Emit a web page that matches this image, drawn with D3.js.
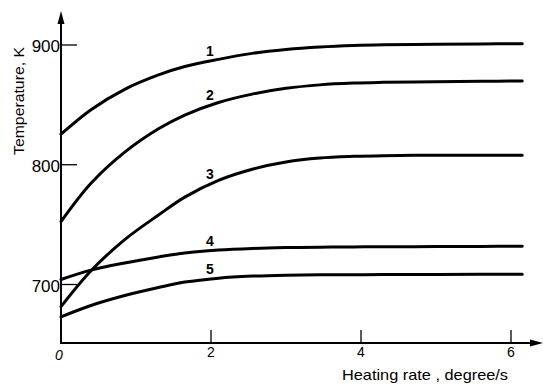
<!DOCTYPE html>
<html><head><meta charset="utf-8">
<script src="https://cdn.jsdelivr.net/npm/d3@7"></script>
<style>html,body{margin:0;padding:0;background:#fff;}svg{display:block;}</style>
</head><body>
<script>
const rates  = [0, 0.4, 0.85, 1.3, 1.65, 2.1, 2.55, 3.0, 3.45, 3.9, 4.3, 5.0, 5.6, 6.15];
const curve1 = [825.5, 846, 863, 875, 882, 888, 893, 896.2, 898.3, 899.6, 900.2, 900.6, 900.9, 901];
const curve2 = [752.5, 784.5, 810.5, 830, 841.5, 852, 859, 863.8, 866.7, 868.2, 868.8, 869.4, 869.7, 870];
const curve3 = [681.5, 711.5, 737.5, 758, 773, 787, 796.3, 802.3, 805.6, 807, 807.6, 808, 808, 808];
const curve4 = [704.2, 712, 718, 723, 726.4, 728.8, 730.1, 730.8, 731.2, 731.4, 731.5, 731.7, 731.8, 732];
const curve5 = [673, 682.5, 690.8, 697.5, 702, 705.3, 707, 707.8, 708.1, 708.2, 708.3, 708.4, 708.5, 708.5];
const curveLabels = ["1", "2", "3", "4", "5"];
const xTicks = [0, 2, 4, 6];
const yTicks = [700, 800, 900];
const xTitle = "Heating rate , degree/s";
const yTitle = "Temperature, K";

const W = 543, H = 384;
const svg = d3.select("body").append("svg").attr("width", W).attr("height", H);
const x = d3.scaleLinear().domain([0, 6]).range([61, 511]);
const y = d3.scaleLinear().domain([700, 900]).range([284.5, 45]);
const x0 = x(0), yBase = 343;

// axes lines
svg.append("line").attr("x1", x0).attr("x2", x0).attr("y1", yBase).attr("y2", 22)
  .attr("stroke", "#000").attr("stroke-width", 2);
svg.append("path").attr("d", `M${x0},11 L${x0-3.5},24 L${x0+3.5},24 Z`).attr("fill", "#000");
svg.append("line").attr("x1", x0 - 1).attr("x2", 533).attr("y1", yBase).attr("y2", yBase)
  .attr("stroke", "#000").attr("stroke-width", 2);
svg.append("path").attr("d", `M543,${yBase} L530,${yBase-3.5} L530,${yBase+3.5} Z`).attr("fill", "#000");

const font = "'Liberation Sans Narrow','Liberation Sans',Arial,sans-serif";

// y ticks
yTicks.forEach(t => {
  svg.append("line").attr("x1", x0).attr("x2", x0 + 16).attr("y1", y(t)).attr("y2", y(t))
    .attr("stroke", "#000").attr("stroke-width", 1.3);
  svg.append("text").attr("x", x0 - 1).attr("y", y(t) + 7).attr("text-anchor", "end")
    .attr("font-family", font).attr("font-size", 17).text(t);
});
// x ticks
xTicks.forEach(t => {
  if (t > 0) {
    svg.append("line").attr("x1", x(t)).attr("x2", x(t)).attr("y1", yBase).attr("y2", yBase - 13)
      .attr("stroke", "#000").attr("stroke-width", 1.3);
  }
  svg.append("text").attr("x", t === 0 ? x(t) - 2 : x(t)).attr("y", t === 0 ? 360 : 357)
    .attr("text-anchor", "middle").attr("font-family", font).attr("font-size", 14)
    .attr("font-style", t === 0 ? "italic" : "normal").text(t);
});

// axis titles
svg.append("text").attr("x", 342).attr("y", 380).attr("font-family", "'Liberation Sans',Arial,sans-serif")
  .attr("font-size", 15).attr("textLength", 166).attr("lengthAdjust", "spacingAndGlyphs").text(xTitle);
svg.append("text").attr("transform", "translate(24,101) rotate(-90)").attr("text-anchor", "middle")
  .attr("font-family", "'Liberation Sans',Arial,sans-serif").attr("font-size", 14)
  .attr("textLength", 108).attr("lengthAdjust", "spacingAndGlyphs").text(yTitle);

// curves
const series = [curve1, curve2, curve3, curve4, curve5];
const line = d3.line().x(d => x(d[0])).y(d => y(d[1])).curve(d3.curveCatmullRom.alpha(0.5));
series.forEach((s, i) => {
  const pts = rates.map((r, j) => [r, s[j]]);
  svg.append("path").attr("d", line(pts)).attr("fill", "none").attr("stroke", "#000")
    .attr("stroke-width", 3).attr("stroke-linecap", "round");
  // label near x = 2
  const vAt2 = d3.scaleLinear().domain(rates).range(s)(2);
  svg.append("text").attr("x", x(2) - 1).attr("y", y(vAt2) - 5).attr("text-anchor", "middle")
    .attr("font-family", font).attr("font-size", 14).attr("font-weight", "bold").text(curveLabels[i]);
});
</script>
</body></html>
